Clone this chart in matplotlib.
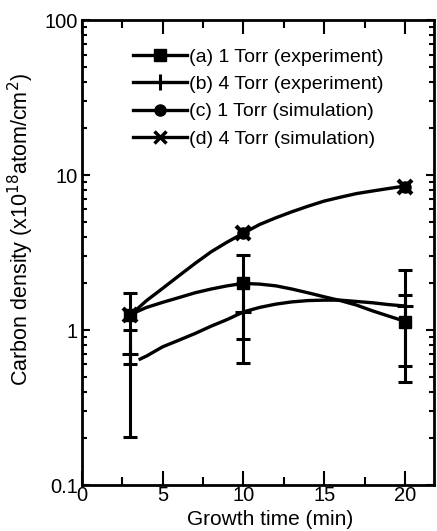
import matplotlib
matplotlib.use("Agg")
import matplotlib.pyplot as plt
from matplotlib.lines import Line2D
from matplotlib.ticker import MultipleLocator, LogLocator, FixedLocator, NullFormatter

plt.rcParams['font.family'] = ['Liberation Sans', 'DejaVu Sans']

# measured points
t_pts = [3, 10, 20]
a_vals = [1.25, 2.0, 1.12]          # 1 Torr experiment
a_low = [0.204, 0.61, 0.46]
a_high = [1.73, 3.05, 2.44]
b_vals = [0.70, 1.30, 1.43]          # 4 Torr experiment
b_low = [0.60, 0.87, 0.59]
b_high = [1.0, 2.0, 1.68]
c_vals = [1.25, 4.2, 8.4]            # 1 Torr simulation
d_vals = [1.25, 4.2, 8.4]            # 4 Torr simulation

# smooth curves
curve_t = [3, 4, 5, 6, 7, 8, 9, 10, 11, 12, 13, 14, 15, 16, 17, 18, 19, 20]
curve_sim = [1.25, 1.55, 1.86, 2.24, 2.69, 3.2, 3.7, 4.22, 4.8, 5.3, 5.8, 6.3, 6.8, 7.2, 7.6, 7.9, 8.2, 8.5]
curve_a = [1.26, 1.40, 1.51, 1.62, 1.74, 1.84, 1.93, 2.0, 1.98, 1.93, 1.84, 1.74, 1.64, 1.55, 1.45, 1.33, 1.23, 1.14]
curve_b_t = [3.6, 4, 5, 6, 7, 8, 9, 10, 11, 12, 13, 14, 15, 16, 17, 18, 19, 20]
curve_b = [0.65, 0.68, 0.78, 0.86, 0.95, 1.06, 1.17, 1.31, 1.40, 1.47, 1.52, 1.55, 1.56, 1.56, 1.53, 1.50, 1.46, 1.43]

legend_labels = ["(a) 1 Torr (experiment)", "(b) 4 Torr (experiment)",
                 "(c) 1 Torr (simulation)", "(d) 4 Torr (simulation)"]

fig = plt.figure(figsize=(4.37, 5.31), dpi=100)
ax = fig.add_axes([0.1876, 0.0866, 0.8054, 0.8754])

lw = 2.4
ax.plot(curve_t, curve_sim, color='black', lw=lw)
ax.plot(curve_t, curve_a, color='black', lw=lw)
ax.plot(curve_b_t, curve_b, color='black', lw=lw)

def yerr(vals, low, high):
    return [[v - l for v, l in zip(vals, low)], [h - v for v, h in zip(vals, high)]]

ax.errorbar(t_pts, a_vals, yerr=yerr(a_vals, a_low, a_high), fmt='s', color='black',
            ms=8, elinewidth=2.2, capsize=5.3, capthick=2.2)
ax.errorbar(t_pts, b_vals, yerr=yerr(b_vals, b_low, b_high), fmt='+', color='black',
            ms=11, mew=2.2, elinewidth=2.2, capsize=5.3, capthick=2.2)
ax.plot(t_pts, c_vals, 'o', color='black', ms=8)
ax.plot(t_pts, d_vals, 'x', color='black', ms=10, mew=3)

ax.set_yscale('log')
ax.set_xlim(0, 21.8)
ax.set_ylim(0.1, 100)
ax.xaxis.set_major_locator(MultipleLocator(5))
ax.xaxis.set_minor_locator(MultipleLocator(2.5))
ax.yaxis.set_major_locator(FixedLocator([0.1, 1, 10, 100]))
ax.yaxis.set_minor_locator(LogLocator(base=10, subs=range(2, 10)))
ax.yaxis.set_minor_formatter(NullFormatter())
ax.set_yticklabels(['0.1', '1', '10', '100'])

ax.tick_params(which='both', direction='in', top=True, right=True, width=1.5, labelsize=14.5)
ax.tick_params(which='major', length=10)
ax.tick_params(which='minor', length=5.5)
ax.tick_params(axis='y', which='major', length=6)
ax.tick_params(axis='y', which='minor', length=3.5)
ax.tick_params(axis='x', pad=1)
ax.tick_params(axis='y', pad=3)
for s in ax.spines.values():
    s.set_linewidth(2)

ax.set_xlabel('Growth time (min)', fontsize=15)
ax.set_ylabel('Carbon density (x10$^{18}$atom/cm$^{2}$)', fontsize=15.5)
ax.xaxis.set_label_coords(0.534, -0.054)
ax.yaxis.set_label_coords(-0.13, 0.55)

handles = [
    Line2D([], [], color='black', lw=lw, marker='s', ms=8),
    Line2D([], [], color='black', lw=lw, marker='+', ms=11, mew=2.2),
    Line2D([], [], color='black', lw=lw, marker='o', ms=8),
    Line2D([], [], color='black', lw=lw, marker='x', ms=9, mew=2.5),
]
ax.legend(handles, legend_labels, loc='upper left', bbox_to_anchor=(0.145, 0.94),
          frameon=False, fontsize=14, handlelength=2.8, handletextpad=0.1,
          labelspacing=0.5, borderaxespad=0, borderpad=0)

fig.savefig('out.png', dpi=100)
